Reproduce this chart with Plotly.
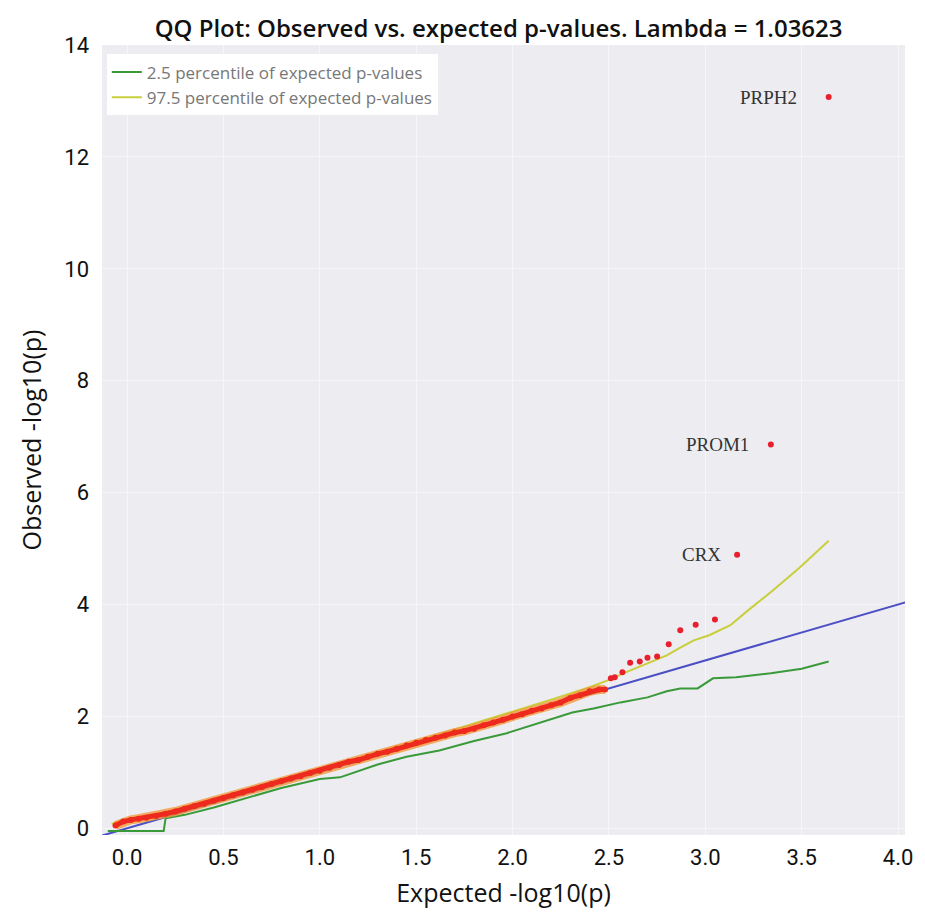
import plotly.graph_objects as go

# observed vs expected -log10(p), dense part of the curve
obs_x = [-0.06, -0.02, 0.02, 0.06, 0.10, 0.15, 0.20, 0.25, 0.30, 0.35, 0.40, 0.45, 0.50,
         0.55, 0.60, 0.65, 0.70, 0.75, 0.80, 0.85, 0.90, 0.95, 1.00, 1.05, 1.10, 1.15,
         1.20, 1.25, 1.30, 1.35, 1.40, 1.45, 1.50, 1.55, 1.60, 1.65, 1.70, 1.75, 1.80,
         1.85, 1.90, 1.95, 2.00, 2.05, 2.10, 2.15, 2.20, 2.25, 2.30, 2.35, 2.40, 2.45, 2.48]
obs_y = [0.05, 0.12, 0.15, 0.17, 0.19, 0.22, 0.26, 0.30, 0.35, 0.40, 0.44, 0.49, 0.54,
         0.59, 0.64, 0.69, 0.74, 0.79, 0.84, 0.89, 0.93, 0.99, 1.03, 1.08, 1.13, 1.19,
         1.22, 1.28, 1.33, 1.37, 1.42, 1.48, 1.53, 1.58, 1.62, 1.66, 1.71, 1.74, 1.78,
         1.84, 1.89, 1.94, 2.00, 2.04, 2.10, 2.14, 2.20, 2.25, 2.33, 2.38, 2.45, 2.48, 2.48]

# top hits
top_x = [2.51, 2.53, 2.57, 2.61, 2.66, 2.70, 2.75, 2.81, 2.87, 2.95, 3.05, 3.165, 3.34, 3.64]
top_y = [2.68, 2.70, 2.79, 2.96, 2.98, 3.05, 3.07, 3.29, 3.54, 3.64, 3.73, 4.89, 6.86, 13.07]

gene_labels = ["CRX", "PROM1", "PRPH2"]
gene_x = [3.165, 3.34, 3.64]
gene_y = [4.89, 6.86, 13.07]

# 2.5 percentile band
lo_x = [-0.10, 0.00, 0.10, 0.19, 0.20, 0.30, 0.45, 0.60, 0.80, 1.00, 1.105, 1.30, 1.45,
        1.62, 1.80, 1.97, 2.14, 2.31, 2.42, 2.56, 2.70, 2.80, 2.87, 2.96, 3.04, 3.16, 3.34,
        3.50, 3.64]
lo_y = [-0.05, -0.05, -0.05, -0.05, 0.18, 0.24, 0.37, 0.52, 0.72, 0.88, 0.91, 1.14, 1.28,
        1.39, 1.56, 1.70, 1.88, 2.07, 2.14, 2.25, 2.34, 2.45, 2.50, 2.50, 2.68, 2.70, 2.77,
        2.85, 2.98]

# 97.5 percentile band
hi_x = [-0.08, 0.00, 0.10, 0.25, 0.50, 0.75, 1.00, 1.25, 1.50, 1.75, 2.00, 2.20, 2.40,
        2.49, 2.59, 2.70, 2.80, 2.87, 2.94, 3.02, 3.13, 3.22, 3.35, 3.49, 3.64]
hi_y = [0.08, 0.14, 0.20, 0.32, 0.56, 0.81, 1.05, 1.30, 1.56, 1.82, 2.08, 2.30, 2.52,
        2.64, 2.79, 2.95, 3.09, 3.23, 3.36, 3.45, 3.63, 3.89, 4.25, 4.66, 5.14]

# null line
null_x = [-0.13, 4.05]
null_y = [-0.13, 4.05]

fig = go.Figure()

fig.add_trace(go.Scatter(x=null_x, y=null_y, mode="lines",
                         line=dict(color="#4b4fc4", width=2), showlegend=False))
fig.add_trace(go.Scatter(x=lo_x, y=lo_y, mode="lines",
                         line=dict(color="#3a9a3a", width=2),
                         name="2.5 percentile of expected p-values"))
fig.add_trace(go.Scatter(x=hi_x, y=hi_y, mode="lines",
                         line=dict(color="#c9cf3a", width=2),
                         name="97.5 percentile of expected p-values"))
fig.add_trace(go.Scatter(x=obs_x, y=obs_y, mode="lines",
                         line=dict(color="#f39a3c", width=9), opacity=0.8, showlegend=False))
fig.add_trace(go.Scatter(x=obs_x, y=obs_y, mode="lines+markers",
                         line=dict(color="#ee2a1e", width=5),
                         marker=dict(color="#ee2a1e", size=6), showlegend=False))
fig.add_trace(go.Scatter(x=top_x, y=top_y, mode="markers",
                         marker=dict(color="#e8202e", size=6), showlegend=False))

shifts = [-14, -20, -30]
for lab, gx, gy, sh in zip(gene_labels, gene_x, gene_y, shifts):
    fig.add_annotation(x=gx, y=gy, text=lab, showarrow=False, xanchor="right",
                       xshift=sh, font=dict(family="Liberation Serif", size=19, color="#333333"))

tick_font = dict(family="Roboto, sans-serif", size=22, color="#111111")
title_font = dict(family="Open Sans, sans-serif", size=25, color="#111111")

# the page body adds an 8px offset, so the figure is 8px smaller
fig.update_layout(
    width=917, height=910,
    margin=dict(l=94, r=20, t=37, b=83),
    paper_bgcolor="white",
    plot_bgcolor="#ececf1",
    font=dict(family="Open Sans, sans-serif", size=20, color="#111111"),
    title=dict(text="QQ Plot: Observed vs. expected p-values. Lambda = 1.03623",
               x=0.535, xanchor="center", y=0.977, yanchor="middle",
               font=dict(family="Open Sans, sans-serif", size=24, weight=600, color="#111111")),
    legend=dict(x=0.006, y=0.988, xanchor="left", yanchor="top",
                bgcolor="white", font=dict(family="Open Sans, sans-serif", size=17, color="#777777"),
                itemwidth=30, tracegroupgap=0),
    xaxis=dict(range=[-0.13, 4.036], tickvals=[0, 0.5, 1, 1.5, 2, 2.5, 3, 3.5, 4],
               tickformat=".1f", showgrid=True, gridcolor="#f6f6f9", zeroline=False,
               automargin=False, tickfont=tick_font, ticklabelstandoff=7,
               title=dict(text="Expected -log10(p)", font=title_font), ticks=""),
    yaxis=dict(range=[-0.12, 14.0], tickvals=list(range(0, 15, 2)),
               showgrid=True, gridcolor="#f6f6f9", zeroline=False,
               automargin=False, tickfont=tick_font, ticklabelstandoff=12,
               title=dict(text="Observed -log10(p)", font=title_font), ticks=""),
)

fig.write_html("out.html")
